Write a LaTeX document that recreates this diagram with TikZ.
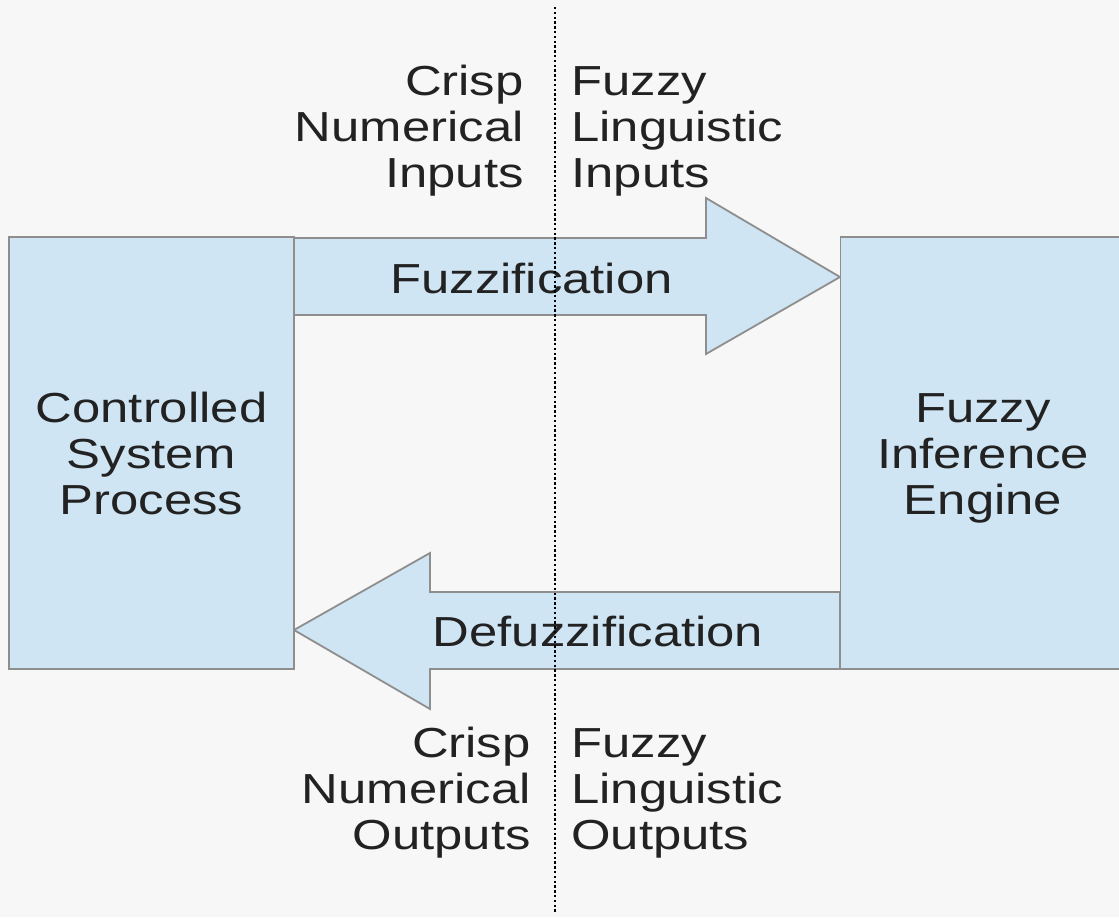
\documentclass[tikz,border=0pt]{standalone}
\usepackage{fontspec}
\setmainfont{Liberation Sans}[FakeStretch=1.21]
\definecolor{bg}{HTML}{F7F7F7}
\definecolor{boxblue}{HTML}{CFE5F3}
\definecolor{edgegray}{HTML}{8E8E8E}
\definecolor{txt}{HTML}{222222}
\begin{document}
\begin{tikzpicture}[x=0.5pt,y=-0.5pt,
  shapefill/.style={fill=boxblue, draw=edgegray, line width=0.9pt, line join=miter},
  block/.style={shapefill, minimum width=142.5pt, minimum height=216pt,
    inner sep=0pt, align=center, font=\fontsize{21}{23}\selectfont, text=txt},
  lbl/.style={font=\fontsize{21}{23}\selectfont, text=txt, inner sep=0pt},
  divider/.style={draw=black, line width=1.2pt, dash pattern=on 1.2pt off 1.2pt},
]
\useasboundingbox (0,0) rectangle (1119,917);
\clip (0,0) rectangle (1119,917);
\fill[bg] (0,0) rectangle (1119,917);

% block arrows between the two processes
\draw[shapefill] (294,238) -- (706,238) -- (706,198) -- (840,277) -- (706,354)
  -- (706,315) -- (294,315) -- cycle;
\draw[shapefill] (840,592) -- (430,592) -- (430,553) -- (294,630) -- (430,709)
  -- (430,669) -- (840,669) -- cycle;

% the two processes (the box of the engine runs on past the right edge)
\node[block] (csp) at (151.5,453) {};
\node[block] (fie) at (983,453) {};
\node[lbl, align=center] (csptext) at (151.5,459.5) {\strut Controlled\\System\\Process\strut};
\node[lbl, align=center] (fietext) at (983,459.5) {\strut Fuzzy\\Inference\\Engine\strut};

% arrow labels
\node[lbl] (fuzz) at (531.5,278) {Fuzzification};
\node[lbl] (defuzz) at (598,631) {Defuzzification};

% crisp / fuzzy boundary
\coordinate (dtop) at (555,7);
\coordinate (dbot) at (555,912);
\draw[divider] (dtop) -- (dbot);

% domain captions
\node[lbl, anchor=east, align=right] (cin) at (524,132) {\strut Crisp\\Numerical\\Inputs\strut};
\node[lbl, anchor=west, align=left] (fin) at (571,132) {\strut Fuzzy\\Linguistic\\Inputs\strut};
\node[lbl, anchor=east, align=right] (cout) at (531,794) {\strut Crisp\\Numerical\\Outputs\strut};
\node[lbl, anchor=west, align=left] (fout) at (571,794) {\strut Fuzzy\\Linguistic\\Outputs\strut};
\end{tikzpicture}
\end{document}
